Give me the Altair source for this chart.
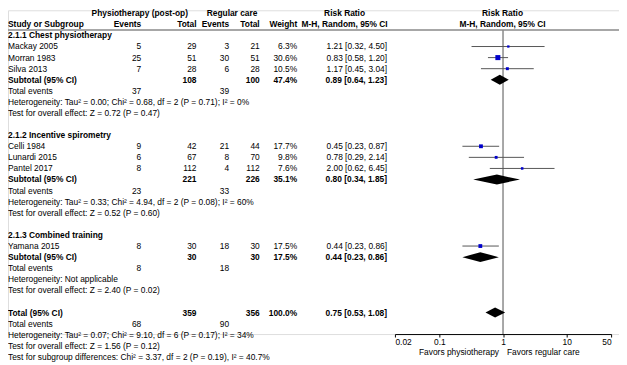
import altair as alt
import pandas as pd

# ---------------- data ----------------
study_names = ["Mackay 2005", "Morran 1983", "Silva 2013", "Celli 1984",
               "Lunardi 2015", "Pantel 2017", "Yamana 2015"]
study_group = [0, 0, 0, 1, 1, 1, 2]
physio_events = [5, 25, 7, 9, 6, 8, 8]
physio_total = [29, 51, 28, 42, 67, 112, 30]
regular_events = [3, 30, 6, 21, 8, 4, 18]
regular_total = [21, 51, 28, 44, 70, 112, 30]
weights = [6.3, 30.6, 10.5, 17.7, 9.8, 7.6, 17.5]
rr = [1.21, 0.83, 1.17, 0.45, 0.78, 2.00, 0.44]
rr_lo = [0.32, 0.58, 0.45, 0.23, 0.29, 0.62, 0.23]
rr_hi = [4.50, 1.20, 3.04, 0.87, 2.14, 6.45, 0.86]

group_names = ["2.1.1 Chest physiotherapy", "2.1.2 Incentive spirometry",
               "2.1.3 Combined training"]
group_physio_total = [108, 221, 30]
group_regular_total = [100, 226, 30]
group_physio_events = [37, 23, 8]
group_regular_events = [39, 33, 18]
group_weight = [47.4, 35.1, 17.5]
group_rr = [0.89, 0.80, 0.44]
group_lo = [0.64, 0.34, 0.23]
group_hi = [1.23, 1.85, 0.86]
group_het = ["Heterogeneity: Tau\u00b2 = 0.00; Chi\u00b2 = 0.68, df = 2 (P = 0.71); I\u00b2 = 0%",
             "Heterogeneity: Tau\u00b2 = 0.33; Chi\u00b2 = 4.94, df = 2 (P = 0.08); I\u00b2 = 60%",
             "Heterogeneity: Not applicable"]
group_effect = ["Test for overall effect: Z = 0.72 (P = 0.47)",
                "Test for overall effect: Z = 0.52 (P = 0.60)",
                "Test for overall effect: Z = 2.40 (P = 0.02)"]

overall_physio_total = 359
overall_regular_total = 356
overall_physio_events = 68
overall_regular_events = 90
overall_weight = 100.0
overall_rr, overall_lo, overall_hi = 0.75, 0.53, 1.08
overall_het = "Heterogeneity: Tau\u00b2 = 0.07; Chi\u00b2 = 9.10, df = 6 (P = 0.17); I\u00b2 = 34%"
overall_effect = "Test for overall effect: Z = 1.56 (P = 0.12)"
subgroup_test = "Test for subgroup differences: Chi\u00b2 = 3.37, df = 2 (P = 0.19), I\u00b2 = 40.7%"

axis_ticks = [0.02, 0.1, 1, 10, 50]
favors_left = "Favors physiotherapy"
favors_right = "Favors regular care"

# ---------------- layout / style ----------------
FONT = "Liberation Sans"
FS = 8.5
W, H = 619, 328
COLS = {
    "label": (0, "left"),
    "pe": (135, "right"),
    "pt": (191, "right"),
    "re": (224, "right"),
    "rt": (255, "right"),
    "w": (293, "right"),
    "rr": (384, "right"),
    "h_physio": (133.5, "center"),
    "h_reg": (227, "center"),
    "h_rr": (341, "center"),
    "h_plot": (501, "center"),
}


def fmt_rr(r, l, h):
    return f"{r:.2f} [{l:.2f}, {h:.2f}]"


cells = []
def cell(row, col, text, bold=False):
    cells.append({"row": row, "col": col, "text": str(text), "bold": bold})

# headers
cell(0, "h_physio", "Physiotherapy (post-op)", True)
cell(0, "h_reg", "Regular care", True)
cell(0, "h_rr", "Risk Ratio", True)
cell(0, "h_plot", "Risk Ratio", True)
cell(1, "label", "Study or Subgroup", True)
cell(1, "pe", "Events", True)
cell(1, "pt", "Total", True)
cell(1, "re", "Events", True)
cell(1, "rt", "Total", True)
cell(1, "w", "Weight", True)
cell(1, "h_rr", "M-H, Random, 95% CI", True)
cell(1, "h_plot", "M-H, Random, 95% CI", True)

study_rows = []
diamonds = []
row = 2
for g, gname in enumerate(group_names):
    cell(row, "label", gname, True)
    row += 1
    for i, s in enumerate(study_names):
        if study_group[i] != g:
            continue
        cell(row, "label", s)
        cell(row, "pe", physio_events[i])
        cell(row, "pt", physio_total[i])
        cell(row, "re", regular_events[i])
        cell(row, "rt", regular_total[i])
        cell(row, "w", f"{weights[i]:.1f}%")
        cell(row, "rr", fmt_rr(rr[i], rr_lo[i], rr_hi[i]))
        study_rows.append({"row": row, "rr": rr[i], "lo": rr_lo[i], "hi": rr_hi[i],
                           "sz": weights[i] * 0.85})
        row += 1
    cell(row, "label", "Subtotal (95% CI)", True)
    cell(row, "pt", group_physio_total[g], True)
    cell(row, "rt", group_regular_total[g], True)
    cell(row, "w", f"{group_weight[g]:.1f}%", True)
    cell(row, "rr", fmt_rr(group_rr[g], group_lo[g], group_hi[g]), True)
    diamonds.append((f"g{g}", row, group_rr[g], group_lo[g], group_hi[g]))
    row += 1
    cell(row, "label", "Total events")
    cell(row, "pe", group_physio_events[g])
    cell(row, "re", group_regular_events[g])
    row += 1
    cell(row, "label", group_het[g])
    row += 1
    cell(row, "label", group_effect[g])
    row += 2

cell(row, "label", "Total (95% CI)", True)
cell(row, "pt", overall_physio_total, True)
cell(row, "rt", overall_regular_total, True)
cell(row, "w", f"{overall_weight:.1f}%", True)
cell(row, "rr", fmt_rr(overall_rr, overall_lo, overall_hi), True)
diamonds.append(("total", row, overall_rr, overall_lo, overall_hi))
row += 1
cell(row, "label", "Total events")
cell(row, "pe", overall_physio_events)
cell(row, "re", overall_regular_events)
row += 1
cell(row, "label", overall_het)
row += 1
cell(row, "label", overall_effect)
row += 1
cell(row, "label", subgroup_test)

cells_df = pd.DataFrame(cells)
studies_df = pd.DataFrame(study_rows)
DH = 0.45
dia_pts = []
for did, r, est, lo, hi in diamonds:
    dia_pts += [{"id": did, "x": lo, "y": r, "y2": r},
                {"id": did, "x": est, "y": r - DH, "y2": r + DH},
                {"id": did, "x": hi, "y": r, "y2": r}]
dia_df = pd.DataFrame(dia_pts)

# ---------------- scales ----------------
ROW_STEP = 11.23
y_top = -3 / ROW_STEP
y_bot = (H - 3) / ROW_STEP
yscale = alt.Scale(domain=[y_top, y_bot], reverse=True, nice=False, zero=False)
xscale = alt.Scale(type="log", domain=[0.02, 50], range=[392, 611], nice=False)
x_axis = alt.Axis(values=axis_ticks, format="~g", title=None, grid=False,
                  labelFlush=True, labelOverlap=False, tickSize=3, labelPadding=1,
                  domainColor="black", tickColor="black", labelColor="black",
                  labelFont=FONT, labelFontSize=FS)

layers = []

# horizontal header rule
layers.append(alt.Chart(pd.DataFrame({"a": [0]})).mark_rule(color="#8a8a8a", strokeWidth=1.5).encode(
    x=alt.value(0), x2=alt.value(W), y=alt.YDatum(1.5, scale=yscale, axis=None)))

# vertical line of no effect
layers.append(alt.Chart(pd.DataFrame({"a": [0]})).mark_rule(color="#8a8a8a", strokeWidth=1.5).encode(
    x=alt.XDatum(1, scale=xscale, axis=x_axis),
    y=alt.YDatum(1.5, scale=yscale, axis=None), y2=alt.value(H)))

# CI lines
layers.append(alt.Chart(studies_df).mark_rule(color="#555555", strokeWidth=1).encode(
    x=alt.X("lo:Q", scale=xscale, axis=x_axis), x2="hi:Q",
    y=alt.Y("row:Q", scale=yscale, axis=None)))

# squares
layers.append(alt.Chart(studies_df).mark_square(color="#0000CC", opacity=1, filled=True).encode(
    x=alt.X("rr:Q", scale=xscale, axis=x_axis),
    y=alt.Y("row:Q", scale=yscale, axis=None),
    size=alt.Size("sz:Q", scale=None, legend=None)))

# diamonds
layers.append(alt.Chart(dia_df).mark_area(color="black", opacity=1, orient="vertical",
                                          interpolate="linear").encode(
    x=alt.X("x:Q", scale=xscale, axis=x_axis),
    y=alt.Y("y:Q", scale=yscale, axis=None, stack=None), y2="y2:Q",
    detail="id:N"))

# favors labels
fav_y = 346
layers.append(alt.Chart(pd.DataFrame({"t": [favors_left]})).mark_text(
    align="right", baseline="middle", font=FONT, fontSize=FS, color="black", dx=-4).encode(
    x=alt.XDatum(1, scale=xscale, axis=x_axis), y=alt.value(fav_y), text="t:N"))
layers.append(alt.Chart(pd.DataFrame({"t": [favors_right]})).mark_text(
    align="left", baseline="middle", font=FONT, fontSize=FS, color="black", dx=4).encode(
    x=alt.XDatum(1, scale=xscale, axis=x_axis), y=alt.value(fav_y), text="t:N"))

# table text
for col, (xpos, align) in COLS.items():
    for bold in (False, True):
        sub = cells_df[(cells_df["col"] == col) & (cells_df["bold"] == bold)]
        if sub.empty:
            continue
        layers.append(alt.Chart(sub).mark_text(
            align=align, baseline="middle", font=FONT, fontSize=FS, color="black",
            fontWeight="bold" if bold else "normal").encode(
            x=alt.value(xpos),
            y=alt.Y("row:Q", scale=yscale, axis=None),
            text="text:N"))

chart = alt.layer(*layers).properties(
    width=W, height=H, autosize="none",
    padding={"left": 0, "top": 0, "right": 0, "bottom": 28},
).configure_view(stroke=None).configure(background="white")

chart.save("out.html", embed_options={"renderer": "svg", "actions": False})
